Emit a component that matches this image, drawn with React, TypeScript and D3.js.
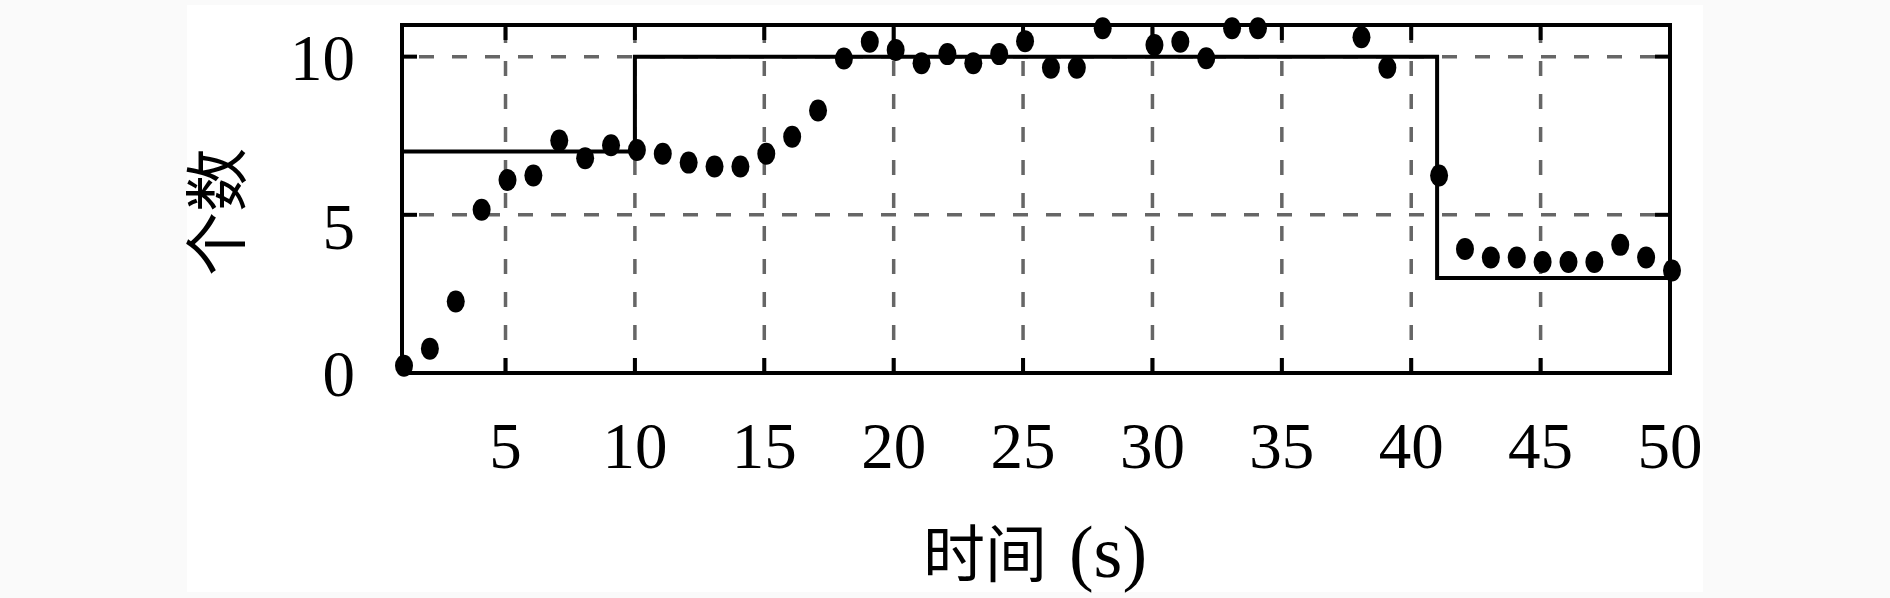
import React from "react";
import * as d3 from "d3";

const timeValues = [1,2,3,4,5,6,7,8,9,10,11,12,13,14,15,16,17,18,19,20,21,22,23,24,25,26,27,28,30,31,32,33,34,38,39,41,42,43,44,45,46,47,48,49,50];
const countValues = [0.23,0.77,2.26,5.16,6.1,6.24,7.35,6.79,7.2,7.05,6.93,6.65,6.53,6.53,6.93,7.47,8.3,9.94,10.47,10.21,9.79,10.08,9.79,10.08,10.49,9.65,9.65,10.9,10.37,10.47,9.95,10.9,10.9,10.61,9.65,6.24,3.92,3.65,3.65,3.51,3.51,3.51,4.05,3.65,3.24];
const stepTimes = [1, 10, 41, 50];
const stepLevels = [7, 10, 3, 3];
const xTicks = [5, 10, 15, 20, 25, 30, 35, 40, 45, 50];
const yTicks = [0, 5, 10];
const yGrid = [5, 10];
const xLabelCjk = "时间";
const xLabelUnit = "(s)";
const yLabel = "个数";

export default function App() {
  const W = 1890, H = 598;
  const left = 402, right = 1670, top = 25, bottom = 373;
  const x = d3.scaleLinear().domain([1, 50]).range([left, right]);
  const y = d3.scaleLinear().domain([0, 11]).range([bottom, top]);
  const stepPts: [number, number][] = stepTimes.map((t, i) => [t, stepLevels[i]]);
  const stepLine = d3.line<[number, number]>().x(d => x(d[0])).y(d => y(d[1])).curve(d3.curveStepAfter);
  const tickLen = 15;
  const serif = "'Liberation Serif', 'DejaVu Serif', serif";
  const cjk = "'Noto Sans CJK SC', sans-serif";
  const gridColor = "#666666";
  const lw = 4;
  const yLabelNudge: Record<number, number> = { 0: 0, 5: 11, 10: 1 };
  return (
    <svg width={W} height={H} style={{ position: "absolute", left: 0, top: 0 }}>
      <rect x={0} y={0} width={W} height={H} fill="#fafafa" />
      <rect x={187} y={5} width={1516} height={587} fill="#ffffff" />
      {xTicks.filter(t => t < 50).map(t => (
        <line key={"gx" + t} x1={x(t)} x2={x(t)} y1={bottom} y2={top} stroke={gridColor} strokeWidth={3.5} strokeDasharray="15 18" />
      ))}
      {yGrid.map(v => (
        <line key={"gy" + v} x1={left} x2={right} y1={y(v)} y2={y(v)} stroke={gridColor} strokeWidth={3.5} strokeDasharray="15 18" strokeDashoffset={-17} />
      ))}
      <path d={stepLine(stepPts) || ""} fill="none" stroke="#000" strokeWidth={lw} />
      <rect x={left} y={top} width={right - left} height={bottom - top} fill="none" stroke="#000" strokeWidth={lw} />
      {xTicks.map(t => (
        <g key={"tx" + t}>
          <line x1={x(t)} x2={x(t)} y1={bottom} y2={bottom - tickLen} stroke="#000" strokeWidth={lw} />
          <line x1={x(t)} x2={x(t)} y1={top} y2={top + tickLen} stroke="#000" strokeWidth={lw} />
          <text x={x(t)} y={y(0) + 95} textAnchor="middle" fontFamily={serif} fontSize={65} fill="#000">{t}</text>
        </g>
      ))}
      {yTicks.map(v => (
        <g key={"ty" + v}>
          <line x1={left} x2={left + tickLen} y1={y(v)} y2={y(v)} stroke="#000" strokeWidth={lw} />
          <line x1={right} x2={right - tickLen} y1={y(v)} y2={y(v)} stroke="#000" strokeWidth={lw} />
          <text x={355} y={y(v) + yLabelNudge[v]} dy="0.35em" textAnchor="end" fontFamily={serif} fontSize={65} fill="#000">{v}</text>
        </g>
      ))}
      {timeValues.map((t, i) => (
        <ellipse key={"p" + i} cx={x(t) + 2} cy={y(countValues[i])} rx={9} ry={11} fill="#000" />
      ))}
      <text x={1035} y={577} textAnchor="middle" fill="#000">
        <tspan fontFamily={cjk} fontSize={62}>{xLabelCjk}</tspan>
        <tspan fontFamily={serif} fontSize={74} dx={22}>{xLabelUnit}</tspan>
      </text>
      <text transform={`translate(240, 212) rotate(-90)`} textAnchor="middle" fontFamily={cjk} fontSize={64} fill="#000">{yLabel}</text>
    </svg>
  );
}
